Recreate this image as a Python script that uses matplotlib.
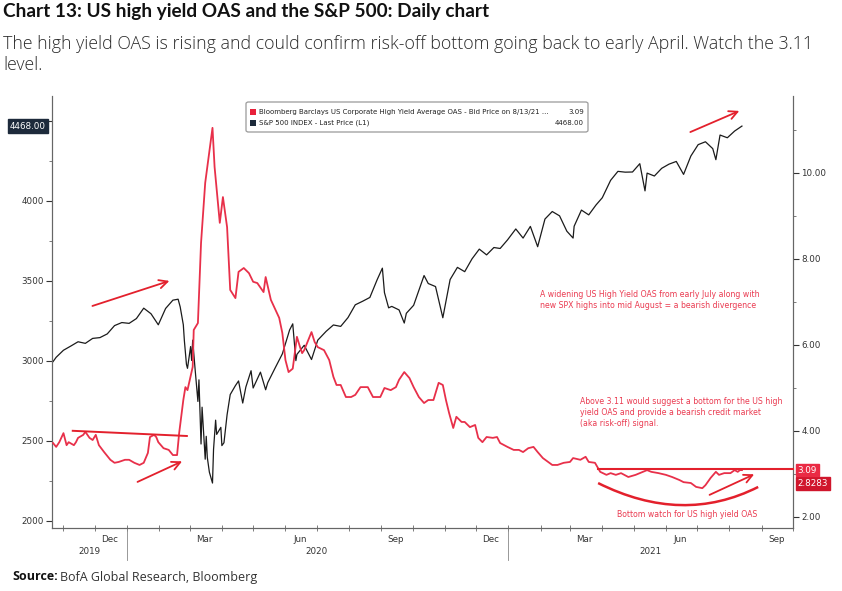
import matplotlib
matplotlib.use("Agg")
import matplotlib.pyplot as plt
import matplotlib.dates as mdates
import matplotlib.transforms as mtransforms
from matplotlib.patches import FancyBboxPatch, PathPatch, Rectangle
from matplotlib.path import Path
import numpy as np
import pandas as pd

# ---------------- data ----------------
spx_dates = ["2019-10-22","2019-10-25","2019-11-01","2019-11-08","2019-11-15","2019-11-22","2019-11-29",
"2019-12-06","2019-12-13","2019-12-20","2019-12-27","2020-01-03","2020-01-10","2020-01-17","2020-01-24",
"2020-01-31","2020-02-07","2020-02-14","2020-02-19","2020-02-21","2020-02-24","2020-02-25","2020-02-27",
"2020-02-28","2020-03-02","2020-03-03","2020-03-04","2020-03-06","2020-03-09","2020-03-10","2020-03-12",
"2020-03-13","2020-03-16","2020-03-17","2020-03-18","2020-03-20","2020-03-23","2020-03-24","2020-03-26",
"2020-03-27","2020-03-31","2020-04-01","2020-04-03","2020-04-06","2020-04-09","2020-04-14","2020-04-17",
"2020-04-21","2020-04-24","2020-04-29","2020-05-01","2020-05-08","2020-05-13","2020-05-15","2020-05-22",
"2020-05-29","2020-06-05","2020-06-08","2020-06-11","2020-06-12","2020-06-19","2020-06-26","2020-07-02",
"2020-07-10","2020-07-17","2020-07-24","2020-07-31","2020-08-07","2020-08-14","2020-08-21","2020-08-28",
"2020-09-02","2020-09-04","2020-09-08","2020-09-11","2020-09-18","2020-09-23","2020-09-25","2020-10-02",
"2020-10-09","2020-10-12","2020-10-16","2020-10-23","2020-10-30","2020-11-06","2020-11-13","2020-11-20",
"2020-11-27","2020-12-04","2020-12-11","2020-12-18","2020-12-24","2020-12-31","2021-01-08","2021-01-15",
"2021-01-22","2021-01-29","2021-02-05","2021-02-12","2021-02-19","2021-02-26","2021-03-04","2021-03-05",
"2021-03-12","2021-03-19","2021-03-26","2021-04-01","2021-04-09","2021-04-16","2021-04-23","2021-04-30",
"2021-05-07","2021-05-12","2021-05-14","2021-05-21","2021-05-28","2021-06-04","2021-06-11","2021-06-18",
"2021-06-25","2021-07-02","2021-07-09","2021-07-16","2021-07-19","2021-07-23","2021-07-30","2021-08-06",
"2021-08-13"]
spx_values = [2996,3023,3067,3093,3120,3110,3141,
3146,3169,3221,3240,3235,3265,3330,3295,
3226,3328,3380,3386,3338,3226,3128,2979,
2954,3090,3003,3130,2972,2747,2882,2481,
2711,2386,2529,2398,2305,2237,2447,2630,
2541,2585,2471,2489,2664,2790,2846,2875,
2737,2837,2939,2831,2930,2820,2864,2955,
3044,3194,3232,3002,3041,3098,3009,3130,
3185,3225,3216,3271,3351,3373,3397,3508,
3580,3427,3332,3341,3319,3237,3298,3348,
3477,3534,3484,3465,3270,3509,3585,3558,
3638,3699,3663,3709,3703,3756,3825,3768,
3841,3714,3887,3934,3907,3811,3768,3842,
3943,3913,3975,4020,4129,4185,4180,4181,
4233,4063,4174,4156,4204,4230,4247,4166,
4281,4352,4370,4327,4258,4412,4395,4437,
4468]

oas_dates = ["2019-10-22","2019-10-25","2019-10-28","2019-11-01","2019-11-04","2019-11-06","2019-11-11",
"2019-11-13","2019-11-15","2019-11-20","2019-11-22","2019-11-26","2019-11-29","2019-12-02","2019-12-05",
"2019-12-10","2019-12-16","2019-12-20","2019-12-24","2019-12-30","2020-01-03","2020-01-08","2020-01-13",
"2020-01-17","2020-01-21","2020-01-23","2020-01-27","2020-01-29","2020-01-31","2020-02-05","2020-02-10",
"2020-02-14","2020-02-18","2020-02-20","2020-02-24","2020-02-26","2020-02-28","2020-03-04","2020-03-05",
"2020-03-09","2020-03-12","2020-03-16","2020-03-23","2020-03-25","2020-03-30","2020-04-02","2020-04-06",
"2020-04-09","2020-04-14","2020-04-17","2020-04-22","2020-04-27","2020-05-01","2020-05-05","2020-05-11",
"2020-05-13","2020-05-18","2020-05-26","2020-05-29","2020-06-01","2020-06-04","2020-06-08","2020-06-12",
"2020-06-15","2020-06-17","2020-06-19","2020-06-23","2020-06-26","2020-06-29","2020-07-02","2020-07-08",
"2020-07-13","2020-07-17","2020-07-20","2020-07-24","2020-07-29","2020-08-03","2020-08-07","2020-08-12",
"2020-08-19","2020-08-24","2020-08-31","2020-09-04","2020-09-10","2020-09-15","2020-09-18","2020-09-23",
"2020-09-28","2020-10-02","2020-10-07","2020-10-12","2020-10-16","2020-10-21","2020-10-26","2020-10-30",
"2020-11-02","2020-11-05","2020-11-09","2020-11-12","2020-11-17","2020-11-20","2020-11-25","2020-11-30",
"2020-12-03","2020-12-07","2020-12-11","2020-12-17","2020-12-21","2020-12-24","2020-12-31","2021-01-06",
"2021-01-11","2021-01-15","2021-01-20","2021-01-25","2021-01-29","2021-02-03","2021-02-08","2021-02-12",
"2021-02-17","2021-02-23","2021-03-01","2021-03-04","2021-03-11","2021-03-16","2021-03-19","2021-03-25",
"2021-03-30","2021-04-05","2021-04-09","2021-04-14","2021-04-19","2021-04-26","2021-05-03","2021-05-10",
"2021-05-14","2021-05-18","2021-05-25","2021-06-01","2021-06-07","2021-06-14","2021-06-18","2021-06-25",
"2021-06-30","2021-07-06","2021-07-09","2021-07-14","2021-07-19","2021-07-22","2021-07-27","2021-08-02",
"2021-08-06","2021-08-09","2021-08-11","2021-08-13"]
oas_values = [3.72,3.63,3.74,3.95,3.67,3.74,3.67,
3.74,3.84,3.91,3.98,3.84,3.79,3.91,3.67,
3.51,3.33,3.26,3.28,3.33,3.33,3.26,3.21,
3.26,3.49,3.86,3.91,3.86,3.74,3.60,3.56,
3.44,3.44,3.95,4.72,5.02,4.95,5.49,6.35,
6.51,8.37,9.77,11.05,10.14,8.84,9.44,8.74,
7.28,7.09,7.70,7.79,7.67,7.47,7.44,7.23,
7.58,7.05,6.63,6.28,5.65,5.37,5.45,6.19,
5.95,5.81,5.88,6.12,6.30,6.07,5.95,5.88,
5.65,5.26,5.07,5.07,4.79,4.79,4.84,5.02,
5.02,4.79,4.79,5.00,4.95,5.02,5.19,5.37,
5.23,5.02,4.79,4.65,4.72,4.72,5.12,5.07,
4.72,4.42,4.07,4.33,4.21,4.21,4.09,4.14,
3.84,3.74,3.86,3.84,3.86,3.72,3.63,3.56,
3.56,3.51,3.60,3.63,3.51,3.37,3.28,3.21,
3.21,3.26,3.28,3.37,3.33,3.40,3.28,3.26,
3.05,2.98,3.02,2.98,3.02,2.93,2.98,3.05,
3.09,3.05,3.02,2.98,2.93,2.86,2.81,2.79,
2.70,2.67,2.74,2.91,3.05,2.98,3.02,3.02,
3.09,3.05,3.09,3.09]

left_ticks = [2000, 2500, 3000, 3500, 4000, 4500]
right_ticks = [2, 4, 6, 8, 10]
spx_last = 4468.00
oas_last = 3.09
oas_tag2 = 2.8283
watch_level = 3.11
year_labels = ["2019", "2020", "2021"]

title = "Chart 13: US high yield OAS and the S&P 500: Daily chart"
subtitle = ("The high yield OAS is rising and could confirm risk-off bottom going back to early April. Watch the 3.11\n"
            "level.")
legend_oas = "Bloomberg Barclays US Corporate High Yield Average OAS - Bid Price on 8/13/21 ..."
legend_spx = "S&P 500 INDEX - Last Price (L1)"
note1 = ("A widening US High Yield OAS from early July along with\n"
         "new SPX highs into mid August = a bearish divergence")
note2 = ("Above 3.11 would suggest a bottom for the US high\n"
         "yield OAS and provide a bearish credit market\n"
         "(aka risk-off) signal.")
note3 = "Bottom watch for US high yield OAS"

# ---------------- styling ----------------
RED = "#e8304a"
RED2 = "#e3202c"
TXTRED = "#ea3a50"
DARK = "#1b1b1b"
W, H = 842, 591

sd = pd.to_datetime(spx_dates)
od = pd.to_datetime(oas_dates)

fig = plt.figure(figsize=(W / 100, H / 100), dpi=100)
fig.patch.set_facecolor("white")

L, R, T, B = 52, 793, 96, 528
ax = fig.add_axes([L / W, 1 - B / H, (R - L) / W, (B - T) / H])
ax2 = ax.twinx()

ax.plot(sd, spx_values, color=DARK, lw=0.9, zorder=3)
ax2.plot(od, oas_values, color=RED, lw=1.3, zorder=3)

x0, x1 = mdates.date2num(pd.Timestamp("2019-10-21")), mdates.date2num(pd.Timestamp("2021-10-01"))
ax.set_xlim(x0, x1)
ax.set_ylim(1956, 4656)
ax2.set_ylim(1.744, 11.79)

for a in (ax, ax2):
    a.spines["top"].set_visible(False)
    for s in ("left", "right", "bottom"):
        a.spines[s].set_color("#666666")
        a.spines[s].set_linewidth(0.8)

tick_font = dict(family="DejaVu Sans")
ax.set_yticks(left_ticks)
ax.set_yticklabels([str(v) if v < 4468 else "" for v in left_ticks], fontsize=6.3, color="#333333", **tick_font)
ax.set_yticks(np.arange(2250, 4600, 500), minor=True)
ax.tick_params(axis="y", which="major", direction="out", length=4, width=0.8, pad=2, colors="#333333")
ax.tick_params(axis="y", which="minor", direction="out", length=2, width=0.6, colors="#666666")

ax2.set_yticks(right_ticks)
ax2.set_yticklabels([f"{v:.2f}" for v in right_ticks], fontsize=6.3, color="#333333", **tick_font)
ax2.set_yticks([3, 5, 7, 9, 11], minor=True)
ax2.tick_params(axis="y", which="major", direction="out", length=4, width=0.8, pad=2, colors="#333333")
ax2.tick_params(axis="y", which="minor", direction="out", length=2, width=0.6, colors="#666666")

# x axis: month labels at mid-month, monthly minor ticks
ax.xaxis.set_major_locator(mdates.MonthLocator(bymonth=(3, 6, 9, 12), bymonthday=15))
ax.xaxis.set_major_formatter(mdates.DateFormatter("%b"))
ax.xaxis.set_minor_locator(mdates.MonthLocator())
ax.tick_params(axis="x", which="major", length=0, pad=5, labelsize=6.3, labelcolor="#333333")
ax.tick_params(axis="x", which="minor", direction="inout", length=4, width=0.6, color="#666666")
for lab in ax.get_xticklabels():
    lab.set_family("DejaVu Sans")

btrans = mtransforms.blended_transform_factory(ax.transData, ax.transAxes)
year_centers = [pd.Timestamp("2019-11-26"), pd.Timestamp("2020-07-01"), pd.Timestamp("2021-05-17")]
for d, lab in zip(year_centers, year_labels):
    ax.text(mdates.date2num(d), -0.045, lab, transform=btrans, ha="center", va="top", fontsize=6.3,
            color="#333333", family="DejaVu Sans")
for d in [pd.Timestamp("2020-01-01"), pd.Timestamp("2021-01-01")]:
    xd = mdates.date2num(d)
    ax.plot([xd, xd], [0, -0.075], transform=btrans, color="#888888", lw=0.6, clip_on=False)

# value tags
ltrans = mtransforms.blended_transform_factory(ax.transAxes, ax.transData)
ax.text(-0.008, spx_last, f"{spx_last:.2f}", transform=ltrans, ha="right", va="center",
        fontsize=6.3, color="white", family="DejaVu Sans", zorder=20,
        bbox=dict(boxstyle="square,pad=0.25", fc="#1d2a3b", ec="#1d2a3b"))
rtrans = mtransforms.blended_transform_factory(ax2.transAxes, ax2.transData)
ax2.text(1.006, oas_last, f"{oas_last:.2f}", transform=rtrans, ha="left", va="center",
         fontsize=6.3, color="white", family="DejaVu Sans", zorder=20,
         bbox=dict(boxstyle="square,pad=0.2", fc="#ea2a44", ec="#ea2a44"))
ax2.text(1.006, oas_tag2 - 0.05, f"{oas_tag2:.4f}", transform=rtrans, ha="left", va="center",
         fontsize=6.3, color="white", family="DejaVu Sans", zorder=19,
         bbox=dict(boxstyle="square,pad=0.2", fc="#d0162c", ec="#d0162c"))

# annotation lines in axes fraction
akw = dict(xycoords="axes fraction", textcoords="axes fraction")
def arrow(p0, p1):
    ax2.annotate("", xy=p1, xytext=p0, **akw,
                 arrowprops=dict(arrowstyle="->,head_length=0.6,head_width=0.3", color=RED2, lw=1.3))

arrow((0.858, 0.914), (0.931, 0.968))
arrow((0.051, 0.512), (0.162, 0.574))
arrow((0.112, 0.104), (0.179, 0.157))
arrow((0.884, 0.074), (0.951, 0.127))
ax2.plot([0.028, 0.182], [0.225, 0.213], transform=ax2.transAxes, color=RED2, lw=1.4, zorder=5)
xw = mdates.date2num(pd.Timestamp("2021-03-28"))
ax2.plot([xw, x1], [watch_level, watch_level], color=RED2, lw=1.5, zorder=5, clip_on=False)
curve = Path([(0.737, 0.104), (0.851, 0.0065), (0.953, 0.095)],
             [Path.MOVETO, Path.CURVE3, Path.CURVE3])
ax2.add_patch(PathPatch(curve, transform=ax2.transAxes, fc="none", ec=RED2, lw=1.8, zorder=5))

nkw = dict(transform=ax2.transAxes, color=TXTRED, fontsize=5.6, family="DejaVu Sans", va="top",
           linespacing=1.25)
ax2.text((540 - L) / (R - L), (B - 290) / (B - T), note1, ha="left", **nkw)
ax2.text((580 - L) / (R - L), (B - 397) / (B - T), note2, ha="left", **nkw)
ax2.text((687 - L) / (R - L), (B - 510) / (B - T), note3, ha="center", **nkw)

# legend box (figure coordinates)
def fx(px): return px / W
def fy(py): return 1 - py / H
fig.patches.append(FancyBboxPatch((fx(246), fy(132)), fx(588) - fx(246), fy(102) - fy(132),
                                  boxstyle="round,pad=0,rounding_size=0.003",
                                  transform=fig.transFigure, fc="white", ec="#9a9a9a", lw=0.9, zorder=30))
fig.patches.append(Rectangle((fx(250), fy(115)), fx(256) - fx(250), fy(109) - fy(115),
                             transform=fig.transFigure, fc="#e8203a", ec="none", zorder=31))
fig.patches.append(Rectangle((fx(250), fy(126)), fx(256) - fx(250), fy(120) - fy(126),
                             transform=fig.transFigure, fc="#1d2a3b", ec="none", zorder=31))
lkw = dict(fontsize=5.0, color="#222222", family="DejaVu Sans", va="center", zorder=32)
fig.text(fx(259), fy(112), legend_oas, ha="left", **lkw)
fig.text(fx(584), fy(112), f"{oas_last:.2f}", ha="right", **lkw)
fig.text(fx(259), fy(123), legend_spx, ha="left", **lkw)
fig.text(fx(584), fy(123), f"{spx_last:.2f}", ha="right", **lkw)

# titles
fig.text(fx(3), fy(12), title, ha="left", va="center", fontsize=13.7, fontweight="bold",
         family="Lato", color="#111111")
fig.text(fx(3), fy(35), subtitle, ha="left", va="top", fontsize=12.8, family="Open Sans",
         fontweight="light", color="#2b2b2b", linespacing=1.25)
fig.text(fx(12), fy(577), "Source:", ha="left", va="center", fontsize=9, fontweight="bold",
         family="Open Sans", color="#111111")
fig.text(fx(60), fy(577), "BofA Global Research, Bloomberg", ha="left", va="center", fontsize=9,
         family="Open Sans", color="#333333")

fig.savefig("out.png", dpi=100)
